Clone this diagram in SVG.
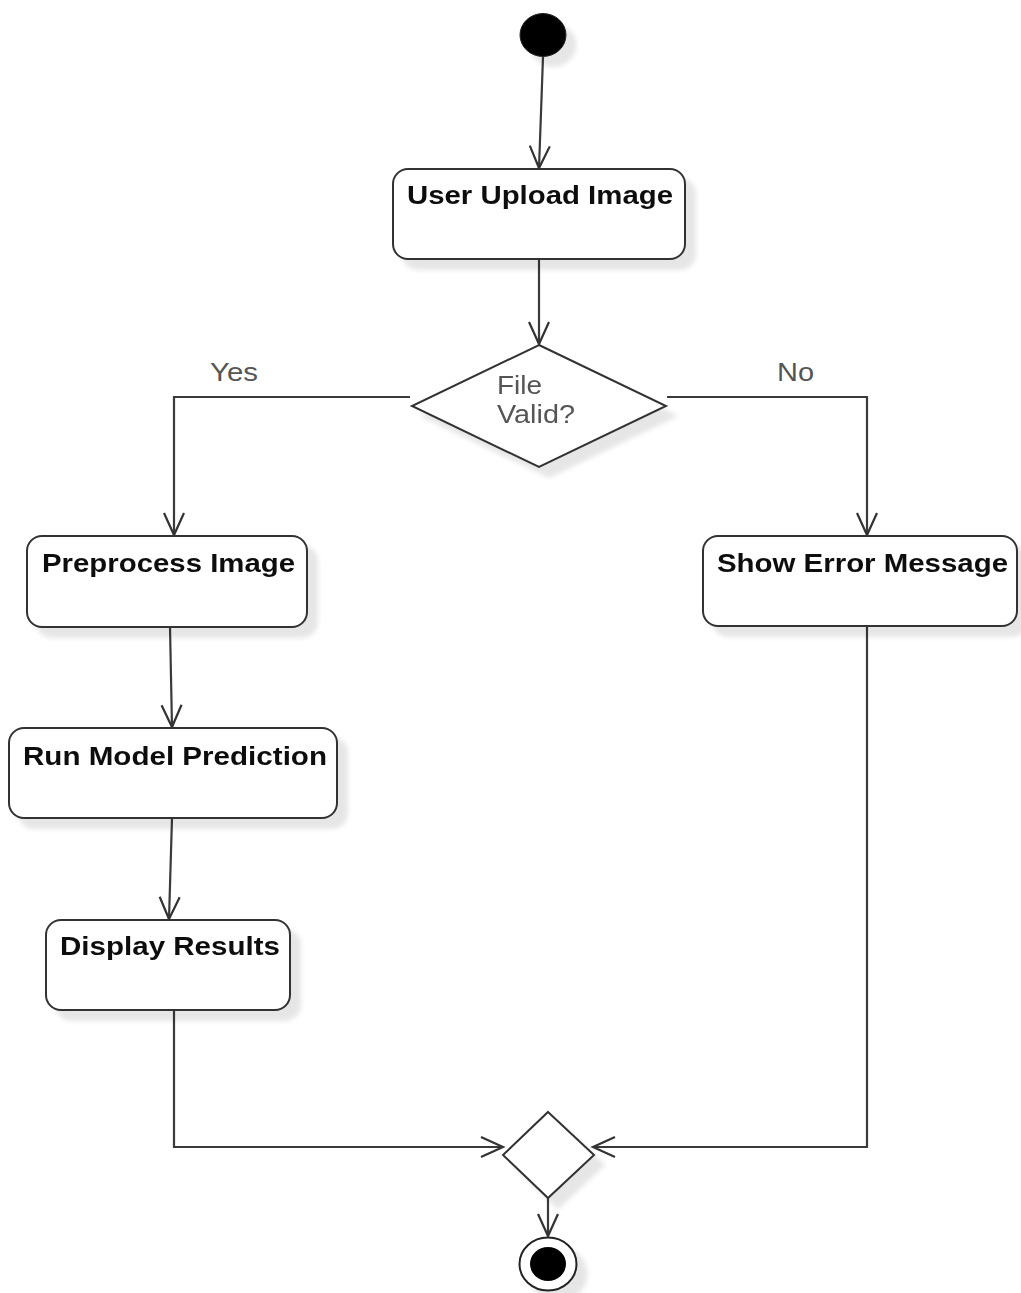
<svg xmlns="http://www.w3.org/2000/svg" width="1021" height="1293" viewBox="0 0 1021 1293">
  <style>
    .act { fill: #ffffff; stroke: #333333; stroke-width: 2; }
    .lbl { font-family: "Liberation Sans", Arial, sans-serif; font-weight: bold; font-size: 26px; fill: #111111; text-anchor: middle; }
    .cond { font-family: "Liberation Sans", Arial, sans-serif; font-size: 26px; fill: #555555; }
    .edge { fill: none; stroke: #3a3a3a; stroke-width: 2.2; }
  </style>
  <defs>
    <filter id="shadow" x="-20%" y="-20%" width="150%" height="150%">
      <feGaussianBlur in="SourceAlpha" stdDeviation="2.5"/>
      <feOffset dx="10" dy="10" result="off"/>
      <feComponentTransfer in="off" result="soft">
        <feFuncA type="linear" slope="0.1"/>
      </feComponentTransfer>
      <feMerge>
        <feMergeNode in="soft"/>
        <feMergeNode in="SourceGraphic"/>
      </feMerge>
    </filter>
    <marker id="open" markerUnits="userSpaceOnUse" markerWidth="28" markerHeight="26" refX="23" refY="11" orient="auto" viewBox="0 0 28 26">
      <path d="M1,1 L23,11 L1,21" fill="none" stroke="#333333" stroke-width="2.2"/>
    </marker>
  </defs>

  <!-- connectors -->
  <g id="connectors">
    <path class="edge" d="M543,57 L539,168" marker-end="url(#open)"/>
    <path class="edge" d="M539,260 L539,344" marker-end="url(#open)"/>
    <path class="edge" d="M410,397 L174,397 L174,535" marker-end="url(#open)"/>
    <path class="edge" d="M667,397 L867,397 L867,535" marker-end="url(#open)"/>
    <path class="edge" d="M170,627 L172,727" marker-end="url(#open)"/>
    <path class="edge" d="M172,818 L169,919" marker-end="url(#open)"/>
    <path class="edge" d="M174,1010 L174,1147 L503,1147" marker-end="url(#open)"/>
    <path class="edge" d="M867,626 L867,1147 L593,1147" marker-end="url(#open)"/>
    <path class="edge" d="M548,1198 L548,1236" marker-end="url(#open)"/>
    <text class="cond" x="210" y="381" textLength="48" lengthAdjust="spacingAndGlyphs">Yes</text>
    <text class="cond" x="777" y="381" textLength="37" lengthAdjust="spacingAndGlyphs">No</text>
  </g>

  <!-- initial node -->
  <g id="start" filter="url(#shadow)">
    <ellipse cx="543" cy="35" rx="23" ry="21.5" fill="#000000" stroke="#222222" stroke-width="1"/>
  </g>

  <g id="upload" filter="url(#shadow)">
    <rect class="act" x="393" y="169" width="292" height="90" rx="15"/>
    <text class="lbl" x="540" y="204" textLength="266" lengthAdjust="spacingAndGlyphs">User Upload Image</text>
  </g>

  <g id="valid" filter="url(#shadow)">
    <polygon class="act" points="539,345 666,406 539,467 412,406"/>
    <text class="cond" x="497" y="394" textLength="45" lengthAdjust="spacingAndGlyphs">File</text>
    <text class="cond" x="497" y="423" textLength="78" lengthAdjust="spacingAndGlyphs">Valid?</text>
  </g>

  <g id="preprocess" filter="url(#shadow)">
    <rect class="act" x="27" y="536" width="280" height="91" rx="15"/>
    <text class="lbl" x="168.5" y="572" textLength="253" lengthAdjust="spacingAndGlyphs">Preprocess Image</text>
  </g>

  <g id="error" filter="url(#shadow)">
    <rect class="act" x="703" y="536" width="314" height="90" rx="15"/>
    <text class="lbl" x="862.5" y="572" textLength="291" lengthAdjust="spacingAndGlyphs">Show Error Message</text>
  </g>

  <g id="predict" filter="url(#shadow)">
    <rect class="act" x="9" y="728" width="328" height="90" rx="15"/>
    <text class="lbl" x="175" y="765" textLength="304" lengthAdjust="spacingAndGlyphs">Run Model Prediction</text>
  </g>

  <g id="display" filter="url(#shadow)">
    <rect class="act" x="46" y="920" width="244" height="90" rx="15"/>
    <text class="lbl" x="170" y="955" textLength="220" lengthAdjust="spacingAndGlyphs">Display Results</text>
  </g>

  <g id="merge" filter="url(#shadow)">
    <polygon class="act" points="548,1112 594,1155 548,1198 503,1155"/>
  </g>

  <!-- final node -->
  <g id="end" filter="url(#shadow)">
    <ellipse cx="548" cy="1264" rx="28.5" ry="26.5" fill="#ffffff" stroke="#222222" stroke-width="2"/>
    <ellipse cx="548" cy="1264" rx="18" ry="17" fill="#000000"/>
  </g>
</svg>
